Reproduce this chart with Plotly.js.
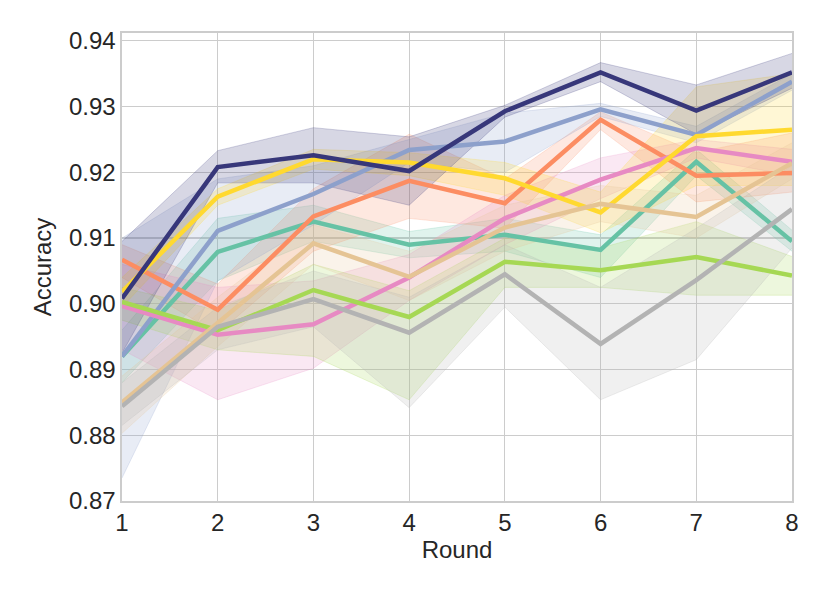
<!DOCTYPE html>
<html>
<head>
<meta charset="utf-8">
<script src="https://cdn.plot.ly/plotly-3.0.1.min.js"></script>
<style>
  html, body { margin: 0; padding: 0; background: #fff; }
  #chart { width: 830px; height: 593px; }
</style>
</head>
<body>
<div id="chart"></div>
<script>
'use strict';

const rounds = [1, 2, 3, 4, 5, 6, 7, 8];

// series in drawing order (Set2 palette, navy last)
const seriesNames = ['teal', 'orange', 'blue', 'pink', 'lime', 'yellow', 'tan', 'gray', 'navy'];
const seriesColors = ['#66c2a5', '#fc8d62', '#8da0cb', '#e78ac3', '#a6d854', '#ffd92f', '#e5c494', '#b3b3b3', '#37377a'];

const tealMean  = [0.8920, 0.9079, 0.9125, 0.9090, 0.9105, 0.9082, 0.9216, 0.9095];
const tealUpper = [0.8960, 0.9130, 0.9150, 0.9110, 0.9130, 0.9105, 0.9235, 0.9112];
const tealLower = [0.8880, 0.9035, 0.9095, 0.9070, 0.9080, 0.9040, 0.9195, 0.9080];

const orangeMean  = [0.9067, 0.8991, 0.9133, 0.9187, 0.9153, 0.9280, 0.9195, 0.9199];
const orangeUpper = [0.9090, 0.9030, 0.9175, 0.9258, 0.9190, 0.9292, 0.9230, 0.9260];
const orangeLower = [0.9040, 0.8955, 0.9080, 0.9130, 0.9115, 0.9265, 0.9155, 0.9170];

const blueMean  = [0.8920, 0.9111, 0.9167, 0.9234, 0.9247, 0.9296, 0.9257, 0.9338];
const blueUpper = [0.9100, 0.9190, 0.9210, 0.9250, 0.9290, 0.9305, 0.9270, 0.9350];
const blueLower = [0.8735, 0.9035, 0.9120, 0.9215, 0.9200, 0.9285, 0.9245, 0.9325];

const pinkMean  = [0.8997, 0.8953, 0.8969, 0.9040, 0.9130, 0.9189, 0.9237, 0.9216];
const pinkUpper = [0.9060, 0.9025, 0.9035, 0.9075, 0.9165, 0.9222, 0.9250, 0.9235];
const pinkLower = [0.8930, 0.8854, 0.8902, 0.9005, 0.9090, 0.9160, 0.9222, 0.9195];

const limeMean  = [0.9003, 0.8960, 0.9021, 0.8980, 0.9064, 0.9051, 0.9071, 0.9043];
const limeUpper = [0.9025, 0.8990, 0.9060, 0.9020, 0.9100, 0.9085, 0.9125, 0.9072];
const limeLower = [0.8975, 0.8930, 0.8920, 0.8854, 0.9025, 0.9025, 0.9013, 0.9013];

const yellowMean  = [0.9018, 0.9163, 0.9220, 0.9215, 0.9191, 0.9139, 0.9255, 0.9265];
const yellowUpper = [0.9040, 0.9175, 0.9235, 0.9230, 0.9215, 0.9170, 0.9330, 0.9350];
const yellowLower = [0.8995, 0.9150, 0.9205, 0.9195, 0.9165, 0.9108, 0.9180, 0.9180];

const tanMean  = [0.8850, 0.8972, 0.9092, 0.9041, 0.9116, 0.9152, 0.9132, 0.9214];
const tanUpper = [0.8890, 0.9010, 0.9120, 0.9080, 0.9150, 0.9180, 0.9165, 0.9245];
const tanLower = [0.8803, 0.8935, 0.9060, 0.9005, 0.9080, 0.9125, 0.9100, 0.9190];

const grayMean  = [0.8844, 0.8965, 0.9007, 0.8956, 0.9045, 0.8939, 0.9036, 0.9144];
const grayUpper = [0.8880, 0.8995, 0.9050, 0.9010, 0.9090, 0.9025, 0.9115, 0.9210];
const grayLower = [0.8815, 0.8930, 0.8965, 0.8842, 0.8995, 0.8854, 0.8915, 0.9085];

const navyMean  = [0.9008, 0.9208, 0.9226, 0.9202, 0.9293, 0.9352, 0.9294, 0.9352];
const navyUpper = [0.9095, 0.9233, 0.9268, 0.9254, 0.9302, 0.9367, 0.9333, 0.9381];
const navyLower = [0.8925, 0.9184, 0.9184, 0.9150, 0.9284, 0.9338, 0.9258, 0.9328];

const means  = [tealMean, orangeMean, blueMean, pinkMean, limeMean, yellowMean, tanMean, grayMean, navyMean];
const uppers = [tealUpper, orangeUpper, blueUpper, pinkUpper, limeUpper, yellowUpper, tanUpper, grayUpper, navyUpper];
const lowers = [tealLower, orangeLower, blueLower, pinkLower, limeLower, yellowLower, tanLower, grayLower, navyLower];

const yTicks = [0.87, 0.88, 0.89, 0.90, 0.91, 0.92, 0.93, 0.94];

function rgba(hex, a) {
    const n = parseInt(hex.slice(1), 16);
    return `rgba(${(n >> 16) & 255},${(n >> 8) & 255},${n & 255},${a})`;
}

const traces = [];

// bands first
seriesNames.forEach((name, i) => {
    const c = seriesColors[i];
    traces.push({
        x: rounds, y: uppers[i], type: 'scatter', mode: 'lines',
        line: { color: rgba(c, 0.22), width: 1 },
        hoverinfo: 'skip', showlegend: false,
    });
    traces.push({
        x: rounds, y: lowers[i], type: 'scatter', mode: 'lines',
        line: { color: rgba(c, 0.22), width: 1 },
        fill: 'tonexty', fillcolor: rgba(c, 0.2),
        hoverinfo: 'skip', showlegend: false,
    });
});

// mean lines on top
seriesNames.forEach((name, i) => {
    traces.push({
        x: rounds, y: means[i], type: 'scatter', mode: 'lines',
        name, line: { color: seriesColors[i], width: 4.5 },
        showlegend: false,
    });
});

const FONT = 'Liberation Sans, Arial, sans-serif';

const axisCommon = {
    showgrid: true, gridcolor: '#cccccc', gridwidth: 1.2,
    showline: true, linecolor: '#cccccc', linewidth: 1.6, mirror: true,
    zeroline: false, ticks: '',
    tickfont: { family: FONT, size: 24, color: '#262626' },
};

const layout = {
    width: 830, height: 593,
    margin: { l: 122, r: 38, t: 33, b: 92 },
    paper_bgcolor: '#ffffff', plot_bgcolor: '#ffffff',
    font: { family: FONT, color: '#262626' },
    xaxis: Object.assign({}, axisCommon, {
        range: [1, 8], tickvals: rounds,
        title: { text: 'Round', font: { size: 24, color: '#262626' }, standoff: 6 },
    }),
    yaxis: Object.assign({}, axisCommon, {
        range: [0.87, 0.9412], tickvals: yTicks, tickformat: '.2f',
        title: { text: 'Accuracy', font: { size: 24, color: '#262626' }, standoff: 10 },
    }),
};

Plotly.newPlot('chart', traces, layout, { staticPlot: true, displayModeBar: false });
</script>
</body>
</html>
